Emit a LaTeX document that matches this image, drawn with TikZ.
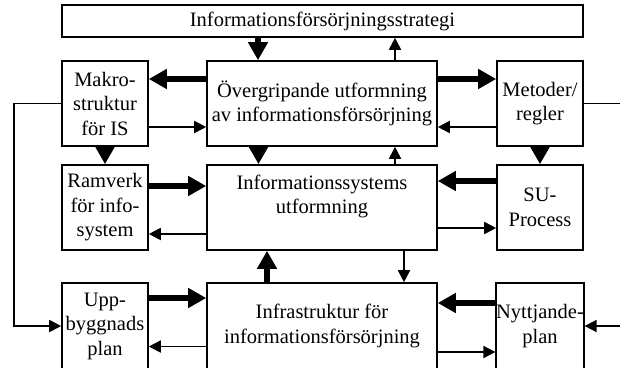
\documentclass[tikz,border=0pt]{standalone}
\usepackage{fontspec}
\setmainfont{Liberation Serif}
\usetikzlibrary{arrows.meta}
\begin{document}
\begin{tikzpicture}[x=1pt,y=-1pt,
  box/.style={draw, line width=1.6pt, inner sep=0pt, align=center,
    font=\fontsize{20.5}{24.5}\selectfont},
  txt/.style={inner sep=0pt, align=center, font=\fontsize{20.5}{24.5}\selectfont},
  thk/.style={line width=6.5pt, -{Triangle[length=18pt,width=19pt]}},
  thn/.style={line width=1.8pt, -{Triangle[length=12pt,width=12pt]}}]
\useasboundingbox (0,0) rectangle (620,367);
\clip (0,0) rectangle (620,367);
% boxes
\node[box, minimum width=521pt, minimum height=32pt] (top) at (322.5,21) {Informationsförsörjningsstrategi};
\node[box, minimum width=86pt, minimum height=85pt] (makro) at (105,103.5) {Makro-\\struktur\\för IS};
\node[box, minimum width=230pt, minimum height=85pt] (over) at (322,103.5) {Övergripande utformning\\av informationsförsörjning};
\node[box, minimum width=86pt, minimum height=85pt] (met) at (540,103.5) {Metoder/\\regler};
\node[box, minimum width=86pt, minimum height=85pt] (ram) at (105,207.5) {Ramverk\\för info-\\system};
\node[box, minimum width=230pt, minimum height=85pt] (info) at (322,207.5) {};
\node[txt] (infotxt) at ([yshift=11pt]info.center) {Informationssystems\\utformning};
\node[box, minimum width=86pt, minimum height=85pt] (su) at (540,207.5) {SU-\\Process};
\node[box, minimum width=86pt, minimum height=86pt] (upp) at (105,326) {Upp-\\byggnads\\plan};
\node[box, minimum width=230pt, minimum height=86pt] (infra) at (322,326) {Infrastruktur för\\informationsförsörjning};
\node[box, minimum width=86pt, minimum height=86pt] (nyt) at (540,326) {Nyttjande-\\plan};
% top row
\draw[thk] ([xshift=-64pt]over.north |- top.south) -- ([xshift=-64pt]over.north);
\draw[thn] ([xshift=73pt]over.north) -- ([xshift=73pt]over.north |- top.south);
\draw[thk] ([yshift=24.5pt]over.west) -- ([yshift=24.5pt]over.west -| makro.east);
\draw[thn] ([yshift=-23.5pt]makro.east) -- ([yshift=-23.5pt]makro.east -| over.west);
\draw[thk] ([yshift=24.5pt]over.east) -- ([yshift=24.5pt]over.east -| met.west);
\draw[thn] ([yshift=-23.5pt]met.west) -- ([yshift=-23.5pt]met.west -| over.east);
% row 1 to row 2
\draw[thk] (makro) -- (ram);
\draw[thk] ([xshift=-63.5pt]over.south) -- ([xshift=-63.5pt]over.south |- info.north);
\draw[thk] (met) -- (su);
\draw[thn] ([xshift=73pt]info.north) -- ([xshift=73pt]info.north |- over.south);
% row 2
\draw[thk] ([yshift=21.5pt]ram.east) -- ([yshift=21.5pt]ram.east -| info.west);
\draw[thn] ([yshift=-26.5pt]info.west) -- ([yshift=-26.5pt]info.west -| ram.east);
\draw[thk] ([yshift=26.5pt]su.west) -- ([yshift=26.5pt]su.west -| info.east);
\draw[thn] ([yshift=-20.5pt]info.east) -- ([yshift=-20.5pt]info.east -| su.west);
% row 2 to row 3
\draw[thk] ([xshift=-55pt]infra.north) -- ([xshift=-55pt]infra.north |- info.south);
\draw[thn] ([xshift=82pt]info.south) -- ([xshift=82pt]info.south |- infra.north);
% row 3
\draw[thk] ([yshift=28pt]upp.east) -- ([yshift=28pt]upp.east -| infra.west);
\draw[thn] ([yshift=-20.5pt]infra.west) -- ([yshift=-20.5pt]infra.west -| upp.east);
\draw[thk] ([yshift=23pt]nyt.west) -- ([yshift=23pt]nyt.west -| infra.east);
\draw[thn] ([yshift=-26pt]infra.east) -- ([yshift=-26pt]infra.east -| nyt.west);
% outer loops
\draw[thn] (makro.west) -- ++(-47,0) |- (upp.west);
\draw[thn] (met.east) -- ++(50,0) |- (nyt.east);
\end{tikzpicture}
\end{document}
